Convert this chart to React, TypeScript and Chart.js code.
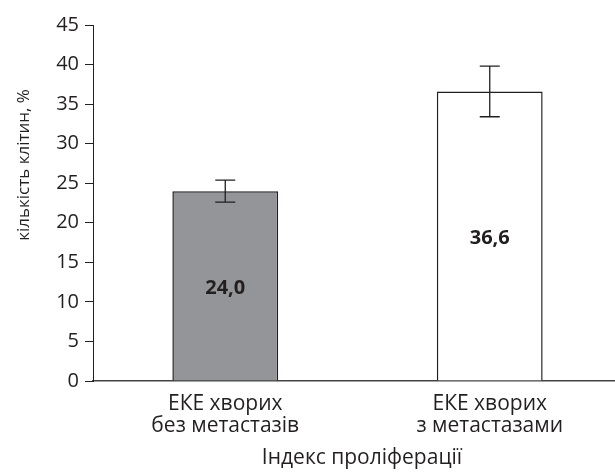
import React, { useEffect, useRef } from "react";
import { Chart, registerables } from "chart.js";

Chart.register(...registerables);

// Chart data
const categories: string[][] = [
  ["ЕКЕ хворих", "без метастазів"],
  ["ЕКЕ хворих", "з метастазами"],
];
const values: number[] = [24.0, 36.6];
const errors: number[] = [1.4, 3.2];
const valueLabels: string[] = ["24,0", "36,6"];
const yTicks: number[] = [0, 5, 10, 15, 20, 25, 30, 35, 40, 45];
const yTitle = "кількість клітин, %";
const xTitle = "Індекс проліферації";

const FONT = "'Open Sans', 'DejaVu Sans', sans-serif";
const INK = "#231f20";

// Error bars with caps, drawn over the bars
const errorBarPlugin = {
  id: "errorBars",
  afterDatasetsDraw(chart: any) {
    const { ctx } = chart;
    const y = chart.scales.y;
    const meta = chart.getDatasetMeta(0);
    ctx.save();
    ctx.strokeStyle = INK;
    ctx.lineWidth = 1.3;
    meta.data.forEach((bar: any, i: number) => {
      const x = bar.x;
      const top = y.getPixelForValue(values[i] + errors[i]);
      const bot = y.getPixelForValue(values[i] - errors[i]);
      const cap = 10;
      ctx.beginPath();
      ctx.moveTo(x, top);
      ctx.lineTo(x, bot);
      ctx.moveTo(x - cap, top);
      ctx.lineTo(x + cap, top);
      ctx.moveTo(x - cap, bot);
      ctx.lineTo(x + cap, bot);
      ctx.stroke();
    });
    ctx.restore();
  },
};

// Value labels inside bars and the axis titles
const textPlugin = {
  id: "texts",
  afterDraw(chart: any) {
    const { ctx } = chart;
    const meta = chart.getDatasetMeta(0);
    ctx.save();
    ctx.fillStyle = INK;
    ctx.textAlign = "center";
    ctx.textBaseline = "middle";
    ctx.font = `bold 20px ${FONT}`;
    meta.data.forEach((bar: any, i: number) => {
      ctx.fillText(valueLabels[i], bar.x, (bar.y + bar.base) / 2 + 2);
    });

    ctx.font = `21px ${FONT}`;
    ctx.fillText(xTitle, 362, 458);

    ctx.translate(24, 165);
    ctx.rotate(-Math.PI / 2);
    ctx.font = `17px ${FONT}`;
    ctx.fillText(yTitle, 0, 0);
    ctx.restore();
  },
};

export default function App() {
  const canvasRef = useRef<HTMLCanvasElement>(null);

  useEffect(() => {
    if (!canvasRef.current) return;
    const chart = new Chart(canvasRef.current, {
      type: "bar",
      data: {
        labels: categories,
        datasets: [
          {
            data: values,
            backgroundColor: ["#939598", "#ffffff"],
            borderColor: INK,
            borderWidth: 1.5,
            categoryPercentage: 0.8,
            barPercentage: 0.5,
          },
        ],
      },
      options: {
        animation: false,
        responsive: true,
        maintainAspectRatio: false,
        layout: { padding: { top: 25, right: 0, left: 0, bottom: 0 } },
        plugins: {
          legend: { display: false },
          tooltip: { enabled: false },
        },
        scales: {
          x: {
            grid: { display: false, drawTicks: false },
            border: { display: true, color: "#444", width: 1.5 },
            ticks: {
              color: INK,
              padding: 12,
              font: { family: FONT, size: 21, lineHeight: 1.05 },
            },
            afterFit(scale: any) {
              scale.height = 92;
            },
          },
          y: {
            min: 0,
            max: 45,
            afterBuildTicks(scale: any) {
              scale.ticks = yTicks.map((v) => ({ value: v }));
            },
            grid: {
              drawOnChartArea: false,
              drawTicks: true,
              tickLength: 8,
              color: INK,
              lineWidth: 1,
            },
            border: { display: true, color: INK, width: 1 },
            ticks: {
              color: INK,
              padding: 6,
              font: { family: FONT, size: 20 },
            },
            afterFit(scale: any) {
              scale.width = 93;
            },
          },
        },
      },
      plugins: [errorBarPlugin, textPlugin],
    });
    return () => chart.destroy();
  }, []);

  // The plot runs past the right edge, so the canvas is a little wider than the frame
  return (
    <div
      style={{
        position: "absolute",
        left: 0,
        top: 0,
        width: 615,
        height: 473,
        overflow: "hidden",
        background: "#fff",
      }}
    >
      <div style={{ position: "relative", width: 622, height: 473 }}>
        <canvas ref={canvasRef} />
      </div>
    </div>
  );
}
